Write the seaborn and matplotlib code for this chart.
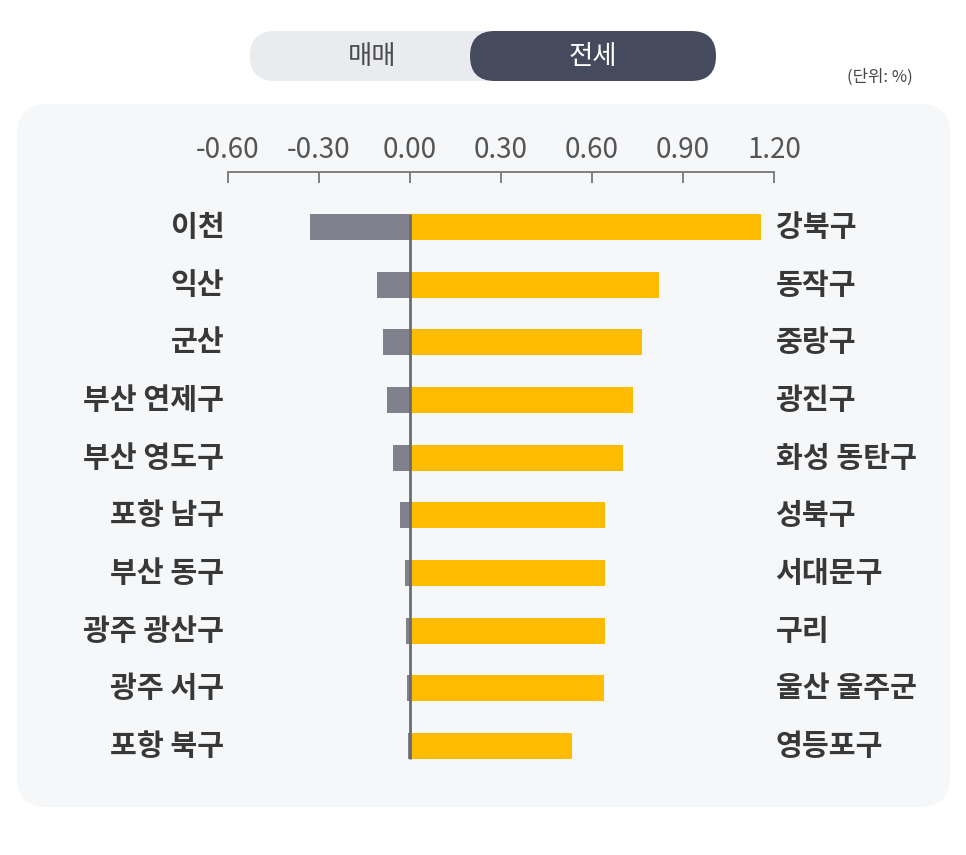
import matplotlib
matplotlib.use("Agg")
import matplotlib.pyplot as plt
from matplotlib.patches import FancyBboxPatch
import seaborn as sns
import pandas as pd

# data (unit: %)
left_regions = ["이천", "익산", "군산", "부산 연제구", "부산 영도구",
                "포항 남구", "부산 동구", "광주 광산구", "광주 서구", "포항 북구"]
sale_change = [-0.33, -0.11, -0.09, -0.075, -0.056, -0.032, -0.017, -0.012, -0.011, -0.008]
right_regions = ["강북구", "동작구", "중랑구", "광진구", "화성 동탄구",
                 "성북구", "서대문구", "구리", "울산 울주군", "영등포구"]
jeonse_change = [1.157, 0.821, 0.764, 0.734, 0.701, 0.644, 0.644, 0.642, 0.638, 0.534]
x_ticks = [-0.60, -0.30, 0.00, 0.30, 0.60, 0.90, 1.20]
toggle_labels = ["매매", "전세"]
unit_label = "(단위: %)"

gray = "#80818D"
yellow = "#FFBB00"
text_dark = "#383838"

sns.set_theme(style="white")
plt.rcParams['font.family'] = ['Noto Sans CJK KR', 'DejaVu Sans']

W, H = 966, 855
fig = plt.figure(figsize=(W / 100, H / 100), dpi=100)
fig.patch.set_facecolor("white")

# background layer in pixel coordinates
bg = fig.add_axes([0, 0, 1, 1])
bg.set_xlim(0, W)
bg.set_ylim(H, 0)
bg.axis("off")
bg.add_patch(FancyBboxPatch((17, 104), 933, 703, boxstyle="round,pad=0,rounding_size=30",
                            fc="#F6F7F9", ec="none"))
# toggle
bg.add_patch(FancyBboxPatch((250, 31), 466, 50, boxstyle="round,pad=0,rounding_size=25",
                            fc="#E9EBEF", ec="none"))
bg.add_patch(FancyBboxPatch((470, 31), 246, 50, boxstyle="round,pad=0,rounding_size=25",
                            fc="#454A5D", ec="none"))
bg.text(372, 56, toggle_labels[0], ha="center", va="center", fontsize=19, color="#4a4a4a")
bg.text(593, 56, toggle_labels[1], ha="center", va="center", fontsize=19, color="white")
bg.text(880, 77, unit_label, ha="center", va="center", fontsize=12, color="#444444")

# main chart
ax = fig.add_axes([228 / W, 1 - 775 / H, 546 / W, 603 / H])
ax.set_facecolor("none")
df = pd.DataFrame({"left": left_regions, "right": right_regions,
                   "sale": sale_change, "jeonse": jeonse_change})
sns.barplot(data=df, x="sale", y="left", color=gray, width=0.45, saturation=1,
            linewidth=0, orient="h", ax=ax)
sns.barplot(data=df, x="jeonse", y="left", color=yellow, width=0.45, saturation=1,
            linewidth=0, orient="h", ax=ax)

ax.set_xlim(-0.60, 1.20)
ax.set_ylim(9.5, -0.95)
ax.plot([0, 0], [-0.225, 9.225], color="#6B6B6B", lw=2, zorder=5, solid_capstyle="butt")

ax.xaxis.tick_top()
ax.set_xticks(x_ticks, labels=[f"{v:.2f}" for v in x_ticks])
ax.tick_params(axis="x", direction="in", length=8, width=1.3, color="#777777",
               pad=5, labelsize=20, labelcolor="#555555")
ax.set_yticks([])
ax.set_xlabel("")
ax.set_ylabel("")
for side in ["bottom", "left", "right"]:
    ax.spines[side].set_visible(False)
ax.spines["top"].set_color("#777777")
ax.spines["top"].set_linewidth(1.3)

for i, (l, r) in enumerate(zip(left_regions, right_regions)):
    ax.text(-0.612, i, l, ha="right", va="center", fontsize=21,
            fontweight="bold", color=text_dark)
    ax.text(1.205, i, r, ha="left", va="center", fontsize=21,
            fontweight="bold", color=text_dark)

fig.savefig("out.png", dpi=100)
